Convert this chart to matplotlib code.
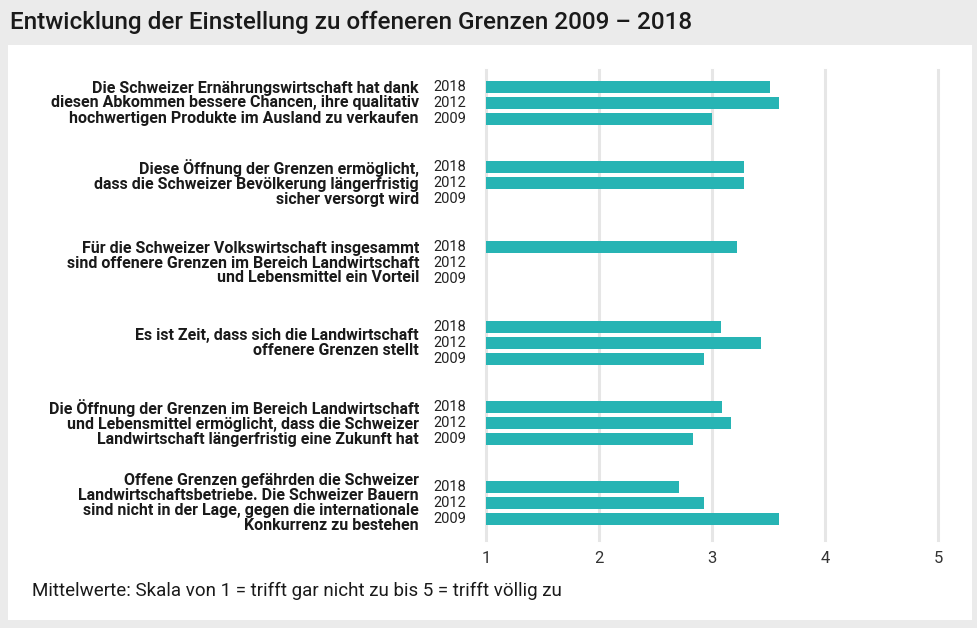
import matplotlib.pyplot as plt
import matplotlib.transforms as mtransforms
from matplotlib.patches import Rectangle

plt.rcParams['font.family'] = ['Roboto', 'DejaVu Sans']

statements = [
    "Die Schweizer Ernährungswirtschaft hat dank\ndiesen Abkommen bessere Chancen, ihre qualitativ\nhochwertigen Produkte im Ausland zu verkaufen",
    "Diese Öffnung der Grenzen ermöglicht,\ndass die Schweizer Bevölkerung längerfristig\nsicher versorgt wird",
    "Für die Schweizer Volkswirtschaft insgesammt\nsind offenere Grenzen im Bereich Landwirtschaft\nund Lebensmittel ein Vorteil",
    "Es ist Zeit, dass sich die Landwirtschaft\noffenere Grenzen stellt",
    "Die Öffnung der Grenzen im Bereich Landwirtschaft\nund Lebensmittel ermöglicht, dass die Schweizer\nLandwirtschaft längerfristig eine Zukunft hat",
    "Offene Grenzen gefährden die Schweizer\nLandwirtschaftsbetriebe. Die Schweizer Bauern\nsind nicht in der Lage, gegen die internationale\nKonkurrenz zu bestehen",
]
years = ["2018", "2012", "2009"]
# None = no value for that year
values_2018 = [3.51, 3.28, 3.22, 3.08, 3.09, 2.71]
values_2012 = [3.59, 3.28, None, 3.43, 3.17, 2.93]
values_2009 = [3.00, None, None, 2.93, 2.83, 3.59]
x_ticks = [1, 2, 3, 4, 5]

W, H = 978, 628
fig = plt.figure(figsize=(W / 100, H / 100), dpi=100)
fig.patch.set_facecolor('#ebebeb')
fig.patches.append(Rectangle((8 / W, 1 - 620 / H), 964 / W, 575 / H,
                             transform=fig.transFigure, facecolor='white',
                             edgecolor='none', zorder=-10))

fig.text(10 / W, 1 - 22 / H, "Entwicklung der Einstellung zu offeneren Grenzen 2009 – 2018",
         fontsize=17.5, fontweight='medium', color='#1a1a1a', va='center', ha='left')

ax = fig.add_axes([486 / W, 1 - 540 / H, 452 / W, 470 / H])
ax.set_facecolor('none')
ax.set_zorder(2)

bar_color = '#27b4b4'
series = [values_2018, values_2012, values_2009]
for j, vals in enumerate(series):
    for g, v in enumerate(vals):
        if v is not None:
            ax.barh(g * 5 + j, v - 1, left=1, height=0.72, color=bar_color, zorder=3)

ax.set_xlim(1, 5)
ax.set_ylim((540 - 87) / 16, -17 / 16)
ax.set_xticks(x_ticks)
ax.set_xticklabels([str(t) for t in x_ticks], fontsize=12, color='#333333')
ax.tick_params(axis='x', length=0, pad=8)
ax.set_yticks([])
for s in ax.spines.values():
    s.set_visible(False)
for t in x_ticks:
    ax.axvline(t, color='#e6e6e6', linewidth=2.2, zorder=1, clip_on=False)

lab_tr = mtransforms.blended_transform_factory(fig.transFigure, ax.transData)
for g, text in enumerate(statements):
    ax.text(419 / W, g * 5 + 1, text, transform=lab_tr, ha='right', va='center',
            fontsize=11.5, fontweight='bold', color='#1a1a1a', linespacing=1.0)
    for j, y in enumerate(years):
        ax.text(433 / W, g * 5 + j, y, transform=lab_tr, ha='left', va='center',
                fontsize=10.5, color='#222222')

fig.text(32 / W, 1 - 591 / H, "Mittelwerte: Skala von 1 = trifft gar nicht zu bis 5 = trifft völlig zu",
         fontsize=13.5, color='#1a1a1a', va='center', ha='left')

fig.savefig('out.png', dpi=100, facecolor=fig.get_facecolor())
